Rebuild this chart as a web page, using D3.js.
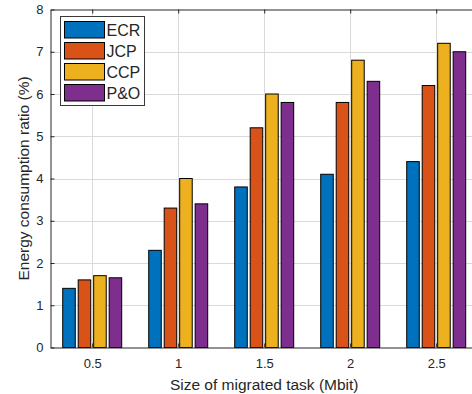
<!DOCTYPE html>
<html><head><meta charset="utf-8">
<script src="https://cdn.jsdelivr.net/npm/d3@7"></script>
<style>body{margin:0;background:#fff;} svg{display:block;} text{font-family:"Liberation Sans",Arial,Helvetica,sans-serif;fill:#262626;}</style>
</head><body><svg id="c" width="472" height="394"></svg>
<script>
const categories = [0.5, 1, 1.5, 2, 2.5];
const series = ["ECR", "JCP", "CCP", "P&O"];
const ECR = [1.4, 2.3, 3.8, 4.1, 4.4];
const JCP = [1.6, 3.3, 5.2, 5.8, 6.2];
const CCP = [1.7, 4.0, 6.0, 6.8, 7.2];
const PO  = [1.65, 3.4, 5.8, 6.3, 7.0];
const yTicks = [0, 1, 2, 3, 4, 5, 6, 7, 8];
const xTickLabels = ["0.5", "1", "1.5", "2", "2.5"];
const colors = ["#0072BD", "#D95319", "#EDB120", "#7E2F8E"];
const values = [ECR, JCP, CCP, PO];

const svg = d3.select("#c");
const L = 50.5, T = 9.5, B = 347.5;
const x0 = 0.2575, x1 = 2.7425;
const x = d3.scaleLinear().domain([x0, x1]).range([L, L + (x1 - x0) * 172]);
const y = d3.scaleLinear().domain([0, 8]).range([B, T]);
const R = x(x1);

// grid
const g = svg.append("g");
g.selectAll(".gy").data(yTicks.slice(1, -1)).enter().append("line")
  .attr("x1", L).attr("x2", R).attr("y1", d => Math.round(y(d)) + 0.5).attr("y2", d => Math.round(y(d)) + 0.5)
  .attr("stroke", "#dadada").attr("stroke-width", 1);
g.selectAll(".gx").data(categories).enter().append("line")
  .attr("y1", T).attr("y2", B).attr("x1", d => Math.round(x(d)) + 0.5).attr("x2", d => Math.round(x(d)) + 0.5)
  .attr("stroke", "#dadada").attr("stroke-width", 1);

// bars
const inner = d3.scaleBand().domain(series).paddingInner(0.19).paddingOuter(0.095);
const rows = [];
categories.forEach((c, i) => series.forEach((s, j) => rows.push({c, s, j, v: values[j][i]})));
svg.append("g").selectAll("rect").data(rows).enter().append("rect")
  .attr("x", d => { inner.range([x(d.c - 0.18), x(d.c + 0.18)]); return inner(d.s); })
  .attr("width", d => { inner.range([x(d.c - 0.18), x(d.c + 0.18)]); return inner.bandwidth(); })
  .attr("y", d => y(d.v)).attr("height", d => y(0) - y(d.v))
  .attr("fill", d => colors[d.j]).attr("stroke", "#000").attr("stroke-width", 1);

// axes
const xAxis = d3.axisBottom(x).tickValues(categories).tickFormat((d, i) => xTickLabels[i]).tickSizeInner(-4).tickSizeOuter(0).tickPadding(11);
const ax = svg.append("g").attr("transform", `translate(0,${B})`).call(xAxis);
const xTop = d3.axisTop(x).tickValues(categories).tickFormat("").tickSizeInner(-4).tickSizeOuter(0);
const axt = svg.append("g").attr("transform", `translate(0,${T})`).call(xTop);
const yAxis = d3.axisLeft(y).tickValues(yTicks).tickSizeInner(-4).tickSizeOuter(0).tickPadding(7);
const ay = svg.append("g").attr("transform", `translate(${L},0)`).call(yAxis);
[ax, axt, ay].forEach(a => {
  a.select(".domain").attr("stroke", "#262626");
  a.selectAll(".tick line").attr("stroke", "#262626");
  a.selectAll("text").attr("font-size", 13).attr("fill", "#262626").attr("font-family", '"Liberation Sans",Arial,sans-serif');
});

// axis labels
svg.append("text").attr("x", (L + R) / 2).attr("y", 390).attr("text-anchor", "middle").attr("font-size", 15.5)
  .text("Size of migrated task (Mbit)");
svg.append("text").attr("transform", `translate(29,${(T+B)/2}) rotate(-90)`).attr("text-anchor", "middle").attr("font-size", 15.5)
  .text("Energy consumption ratio (%)");

// legend
const lg = svg.append("g");
lg.append("rect").attr("x", 60.5).attr("y", 16.5).attr("width", 84).attr("height", 89)
  .attr("fill", "#fff").attr("stroke", "#3a3a3a").attr("stroke-width", 1);
series.forEach((s, j) => {
  const yy = 21.5 + j * 21;
  lg.append("rect").attr("x", 64.5).attr("y", yy).attr("width", 40).attr("height", 16.5)
    .attr("fill", colors[j]).attr("stroke", "#000").attr("stroke-width", 1);
  lg.append("text").attr("x", 106.5).attr("y", yy + 14.5).attr("font-size", 16).text(s);
});
</script></body></html>
